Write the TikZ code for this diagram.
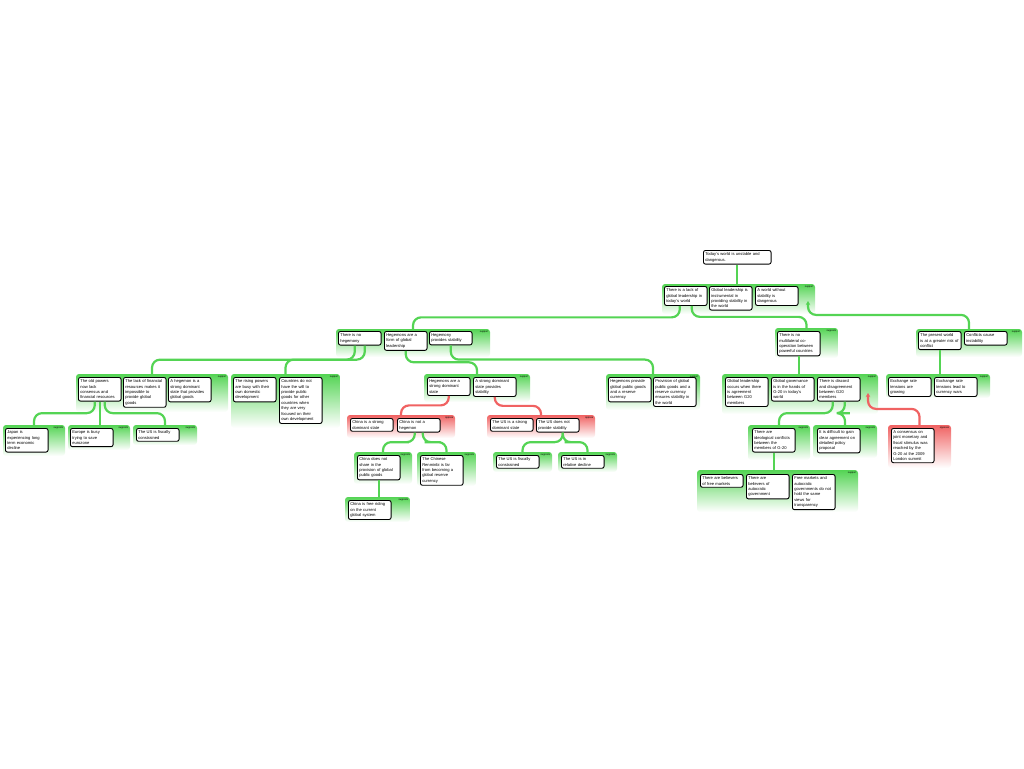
\documentclass[tikz,border=0pt]{standalone}
\usepackage{fontspec}
\setmainfont{Liberation Sans}
\usetikzlibrary{fit,calc,arrows.meta}

\definecolor{argGreen}{RGB}{84,212,84}
\definecolor{argRed}{RGB}{240,98,98}
\newcommand{\claimfont}{\fontsize{4.1}{5.4}\selectfont}
\newcommand{\tagfont}{\fontsize{2.5}{3}\selectfont}

\tikzset{
  claim/.style={draw, line width=0.9pt, rounded corners=2pt, fill=white, anchor=north west,
    text width=39pt, inner xsep=1.8pt, inner ysep=2.2pt, align=left, font=\claimfont},
  supgrp/.style={inner sep=0pt, rounded corners=3pt, top color=argGreen, bottom color=white},
  oppgrp/.style={inner sep=0pt, rounded corners=3pt, top color=argRed, bottom color=white},
  grptag/.style={anchor=north east, inner sep=0.8pt, font=\tagfont},
  sup/.style={draw=argGreen, line width=2.2pt, rounded corners=8pt},
  opp/.style={draw=argRed, line width=2.2pt, rounded corners=8pt},
}

\begin{document}
\begin{tikzpicture}[x=1pt,y=-1pt]
  \useasboundingbox (0,0) rectangle (1024,768);

  % groups
  \node[supgrp, fit={(662,284) (815,314)}] (gA) {};
  \node[supgrp, fit={(336,329) (490,357)}] (gB) {};
  \node[supgrp, fit={(775,328) (838,358)}] (gC) {};
  \node[supgrp, fit={(916,329) (1022,357)}] (gD) {};
  \node[supgrp, fit={(76,374) (228,412)}] (gE) {};
  \node[supgrp, fit={(231,374) (340,428)}] (gF) {};
  \node[supgrp, fit={(424,374) (530,402)}] (gG) {};
  \node[supgrp, fit={(606,374) (700,410)}] (gH) {};
  \node[oppgrp, fit={(347,415) (455,438)}] (gI) {};
  \node[oppgrp, fit={(487,415) (595,438)}] (gJ) {};
  \node[supgrp, fit={(354,452) (412,484)}] (gK1) {};
  \node[supgrp, fit={(417,452) (476,486)}] (gK2) {};
  \node[supgrp, fit={(345,497) (410,522)}] (gL) {};
  \node[supgrp, fit={(493,452) (552,472)}] (gM1) {};
  \node[supgrp, fit={(558,452) (617,472)}] (gM2) {};
  \node[supgrp, fit={(722,374) (878,414)}] (gN) {};
  \node[oppgrp, fit={(888,425) (951,468)}] (gO) {};
  \node[supgrp, fit={(748,425) (810,460)}] (gP1) {};
  \node[supgrp, fit={(813,425) (877,458)}] (gP2) {};
  \node[supgrp, fit={(697,470) (858,512)}] (gQ) {};
  \node[supgrp, fit={(886,374) (990,398)}] (gR) {};
  \node[supgrp, fit={(3,425) (65,456)}] (gS1) {};
  \node[supgrp, fit={(68,425) (130,450)}] (gS2) {};
  \node[supgrp, fit={(133,425) (197,445)}] (gS3) {};

  \node[grptag] (tA) at ([xshift=-1pt,yshift=-1pt]gA.north east) {support};
  \node[grptag] (tB) at ([xshift=-1pt,yshift=-1pt]gB.north east) {support};
  \node[grptag] (tC) at ([xshift=-1pt,yshift=-1pt]gC.north east) {supports};
  \node[grptag] (tD) at ([xshift=-1pt,yshift=-1pt]gD.north east) {support};
  \node[grptag] (tE) at ([xshift=-1pt,yshift=-1pt]gE.north east) {support};
  \node[grptag] (tF) at ([xshift=-1pt,yshift=-1pt]gF.north east) {support};
  \node[grptag] (tG) at ([xshift=-1pt,yshift=-1pt]gG.north east) {support};
  \node[grptag] (tH) at ([xshift=-1pt,yshift=-1pt]gH.north east) {support};
  \node[grptag] (tI) at ([xshift=-1pt,yshift=-1pt]gI.north east) {oppose};
  \node[grptag] (tJ) at ([xshift=-1pt,yshift=-1pt]gJ.north east) {oppose};
  \node[grptag] (tK1) at ([xshift=-1pt,yshift=-1pt]gK1.north east) {supports};
  \node[grptag] (tK2) at ([xshift=-1pt,yshift=-1pt]gK2.north east) {supports};
  \node[grptag] (tL) at ([xshift=-1pt,yshift=-1pt]gL.north east) {supports};
  \node[grptag] (tM1) at ([xshift=-1pt,yshift=-1pt]gM1.north east) {supports};
  \node[grptag] (tM2) at ([xshift=-1pt,yshift=-1pt]gM2.north east) {supports};
  \node[grptag] (tN) at ([xshift=-1pt,yshift=-1pt]gN.north east) {support};
  \node[grptag] (tO) at ([xshift=-1pt,yshift=-1pt]gO.north east) {opposes};
  \node[grptag] (tP1) at ([xshift=-1pt,yshift=-1pt]gP1.north east) {supports};
  \node[grptag] (tP2) at ([xshift=-1pt,yshift=-1pt]gP2.north east) {supports};
  \node[grptag] (tQ) at ([xshift=-1pt,yshift=-1pt]gQ.north east) {support};
  \node[grptag] (tR) at ([xshift=-1pt,yshift=-1pt]gR.north east) {support};
  \node[grptag] (tS1) at ([xshift=-1pt,yshift=-1pt]gS1.north east) {supports};
  \node[grptag] (tS2) at ([xshift=-1pt,yshift=-1pt]gS2.north east) {supports};
  \node[grptag] (tS3) at ([xshift=-1pt,yshift=-1pt]gS3.north east) {supports};

  % claims
  \node[claim, text width=64pt] (root) at (703,250) {Today's world is unstable and\\ dangerous.};
  \node[claim] (A1) at (664,286) {There is a lack of\\ global leadership in\\ today's world};
  \node[claim] (A2) at (709,286) {Global leadership is\\ instrumental in\\ providing stability in\\ the world};
  \node[claim] (A3) at (755,286) {A world without\\ stability is\\ dangerous};
  \node[claim] (B1) at (338,331) {There is no\\ hegemony};
  \node[claim] (B2) at (384,331) {Hegemons are a\\ form of global\\ leadership};
  \node[claim] (B3) at (429,331) {Hegemony\\ provides stability};
  \node[claim] (C) at (777,331) {There is no\\ multilateral co-\\ operation between\\ powerful countries};
  \node[claim] (D1) at (918,331) {The present world\\ is at a greater risk of\\ conflict};
  \node[claim] (D2) at (964,331) {Conflicts cause\\ instability};
  \node[claim] (E1) at (78,377) {The old powers\\ now lack\\ consensus and\\ financial resources};
  \node[claim] (E2) at (123,377) {The lack of financial\\ resources makes it\\ impossible to\\ provide global\\ goods};
  \node[claim] (E3) at (168,377) {A hegemon is a\\ strong dominant\\ state that provides\\ global goods};
  \node[claim] (F1) at (233,377) {The rising powers\\ are busy with their\\ own domestic\\ development};
  \node[claim] (F2) at (279,377) {Countries do not\\ have the will to\\ provide public\\ goods for other\\ countries when\\ they are very\\ focused on their\\ own development};
  \node[claim] (G1) at (427,377) {Hegemons are a\\ strong dominant\\ state};
  \node[claim] (G2) at (473,377) {A strong dominant\\ state provides\\ stability};
  \node[claim] (H1) at (608,377) {Hegemons provide\\ global public goods\\ and a reserve\\ currency};
  \node[claim] (H2) at (653,377) {Provision of global\\ public goods and a\\ reserve currency\\ ensures stability in\\ the world};
  \node[claim] (I1) at (350,418) {China is a strong\\ dominant state};
  \node[claim] (I2) at (397,418) {China is not a\\ hegemon};
  \node[claim] (J1) at (490,418) {The US is a strong\\ dominant state};
  \node[claim] (J2) at (536,418) {The US does not\\ provide stability};
  \node[claim] (K1) at (357,455) {China does not\\ share in the\\ provision of global\\ public goods};
  \node[claim] (K2) at (420,455) {The Chinese\\ Renminbi is far\\ from becoming a\\ global reserve\\ currency};
  \node[claim] (L) at (348,500) {China is free riding\\ on the current\\ global system};
  \node[claim] (M1) at (496,455) {The US is fiscally\\ constrained};
  \node[claim] (M2) at (561,455) {The US is in\\ relative decline};
  \node[claim] (N1) at (725,377) {Global leadership\\ occurs when there\\ is agreement\\ between G20\\ members};
  \node[claim] (N2) at (771,377) {Global governance\\ is in the hands of\\ G-20 in today's\\ world};
  \node[claim] (N3) at (817,377) {There is discord\\ and disagreement\\ between G20\\ members};
  \node[claim] (O) at (891,428) {A consensus on\\ joint monetary and\\ fiscal stimulus was\\ reached by the\\ G-20 at the 2009\\ London summit};
  \node[claim] (P1) at (752,428) {There are\\ ideological conflicts\\ between the\\ members of G-20};
  \node[claim] (P2) at (817,428) {It is difficult to gain\\ clear agreement on\\ detailed policy\\ proposal};
  \node[claim] (Q1) at (700,474) {There are believers\\ of free markets};
  \node[claim] (Q2) at (746,474) {There are\\ believers of\\ autocratic\\ government};
  \node[claim] (Q3) at (792,474) {Free markets and\\ autocratic\\ governments do not\\ hold the same\\ views for\\ transparency};
  \node[claim] (R1) at (888,377) {Exchange rate\\ tensions are\\ growing};
  \node[claim] (R2) at (934,377) {Exchange rate\\ tensions lead to\\ currency wars};
  \node[claim] (S1) at (5,428) {Japan is\\ experiencing long\\ term economic\\ decline};
  \node[claim] (S2) at (70,428) {Europe is busy\\ trying to save\\ eurozone};
  \node[claim] (S3) at (136,428) {The US is fiscally\\ constrained};

  \coordinate (Atip) at (808,301);
  \coordinate (Ntip) at (868,393);

  % links
  \draw[sup] (root.south) -- (root.south |- gA.north);
  \draw[sup] ([xshift=-6pt]A1.south) |- ($(A1.south)!.5!(gB.north)$) -| (gB.north);
  \draw[sup] ([xshift=6pt]A1.south) |- ($(A1.south)!.5!(gC.north)$) -| (gC.north);
  \draw[sup, -{Stealth[length=4pt,width=4.5pt]}] (gD.north) |- ($(gD.north)!.5!(Atip)$) -| (Atip);
  \draw[sup] ([xshift=-5pt]B1.south) |- ($(B1.south)!.5!(gE.north)$) -| (gE.north);
  \draw[sup] ([xshift=5pt]B1.south) |- ($(B1.south)!.5!(gF.north)$) -| (gF.north);
  \draw[sup] (B2.south) |- ($(B2.south)!.5!(gG.north)$) -| (gG.north);
  \draw[sup] (B3.south) |- ($(B3.south)!.5!(gH.north)$) -| (gH.north);
  \draw[sup] ([xshift=-5pt]E1.south) |- ($(E1.south)!.5!(gS1.north)$) -| (gS1.north);
  \draw[sup] (E1.south) -- (E1.south |- gS2.north);
  \draw[sup] ([xshift=5pt]E1.south) |- ($(E1.south)!.5!(gS3.north)$) -| (gS3.north);
  \draw[opp] (G1.south) |- ($(G1.south)!.5!(gI.north)$) -| (gI.north);
  \draw[opp] (G2.south) |- ($(G2.south)!.5!(gJ.north)$) -| (gJ.north);
  \draw[sup] ([xshift=-4pt]I2.south) |- ($(I2.south)!.5!(gK1.north)$) -| (gK1.north);
  \draw[sup] ([xshift=4pt]I2.south) |- ($(I2.south)!.5!(gK2.north)$) -| (gK2.north);
  \draw[sup] (K1.south) -- (K1.south |- gL.north);
  \draw[sup] ([xshift=5pt]J2.south) |- ($(J2.south)!.5!(gM1.north)$) -| (gM1.north);
  \draw[sup] ([xshift=5pt]J2.south) |- ($(J2.south)!.5!(gM2.north)$) -| (gM2.north);
  \draw[sup] (C.south) -- (C.south |- gN.north);
  \draw[opp, -{Stealth[length=4pt,width=4.5pt]}] (gO.north) |- ($(gO.north)!.5!(Ntip)$) -| (Ntip);
  \draw[sup] ([xshift=-6pt]N3.south) |- ($(N3.south)!.5!(gP1.north)$) -| (gP1.north);
  \draw[sup] ([xshift=6pt]N3.south) |- ($(N3.south)!.5!(gP2.north)$) -| (gP2.north);
  \draw[sup] (P1.south) -- (P1.south |- gQ.north);
  \draw[sup] (D1.south) -- (D1.south |- gR.north);
\end{tikzpicture}
\end{document}
